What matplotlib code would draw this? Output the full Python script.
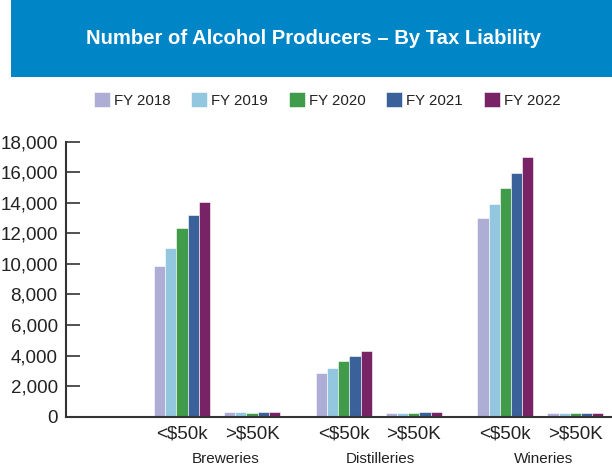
import matplotlib
matplotlib.use("Agg")
import matplotlib.pyplot as plt
from matplotlib.patches import Rectangle
from matplotlib import font_manager

years = ["FY 2018", "FY 2019", "FY 2020", "FY 2021", "FY 2022"]
groups = ["Breweries", "Distilleries", "Wineries"]
subcats = ["<$50k", ">$50K"]
colors = ["#ADADD6", "#93C7E0", "#409B4B", "#3A6199", "#772366"]

# values per year: [Brew <50k, Brew >50K, Dist <50k, Dist >50K, Wine <50k, Wine >50K]
fy2018 = [9850, 300, 2880, 240, 13000, 250]
fy2019 = [11050, 300, 3190, 240, 13920, 250]
fy2020 = [12350, 250, 3650, 260, 14970, 250]
fy2021 = [13200, 300, 3970, 300, 15950, 250]
fy2022 = [14050, 300, 4300, 300, 17000, 250]
series = [fy2018, fy2019, fy2020, fy2021, fy2022]

yticks = [0, 2000, 4000, 6000, 8000, 10000, 12000, 14000, 16000, 18000]
ytick_labels = ["0", "2,000", "4,000", "6,000", "8,000", "10,000", "12,000", "14,000", "16,000", "18,000"]

names = {f.name for f in font_manager.fontManager.ttflist}
narrow = "Liberation Sans Narrow" if "Liberation Sans Narrow" in names else "Liberation Sans"
plt.rcParams["font.family"] = [narrow, "DejaVu Sans"]

W, H = 612, 468
fig = plt.figure(figsize=(W / 100, H / 100), dpi=100)
fig.patch.set_facecolor("white")

# banner
fig.patches.append(Rectangle((11 / W, 1 - 77 / H), 1 - 11 / W, 77 / H,
                             transform=fig.transFigure, facecolor="#0085C7",
                             edgecolor="none", zorder=0))
fig.text(313 / W, 1 - 38 / H, "Number of Alcohol Producers \u2013 By Tax Liability",
         color="white", fontsize=14.6, fontweight="bold", ha="center", va="center")

ax = fig.add_axes([66 / W, 1 - 416.7 / H, 1 - 66 / W, 275 / H])

unit = 70.0  # px per x unit
first = 116 / unit
gstep = 2.31
bw = 0.16
centers = []
for g in range(len(groups)):
    for s in range(len(subcats)):
        centers.append(first + g * gstep + s)

for i, (vals, c, lab) in enumerate(zip(series, colors, years)):
    xs = [x + (i - 2) * bw for x in centers]
    ax.bar(xs, vals, width=bw, color=c, edgecolor="white", linewidth=0.4, label=lab, zorder=2)

ax.set_xlim(0, 546 / unit)
ax.set_ylim(0, 18000)
ax.set_yticks(yticks)
ax.set_yticklabels(ytick_labels)
ax.set_xticks(centers)
ax.set_xticklabels(subcats * len(groups))
ax.tick_params(axis="y", direction="in", length=10, width=1.2, color="#333333",
               labelsize=13.5, labelcolor="#222222", pad=6)
ax.tick_params(axis="x", length=0, labelsize=13.5, labelcolor="#222222", pad=6)
for sp in ["top", "right"]:
    ax.spines[sp].set_visible(False)
for sp in ["left", "bottom"]:
    ax.spines[sp].set_color("#333333")
    ax.spines[sp].set_linewidth(1.5)

group_label_px = [226, 380.5, 543.5]
for name, px in zip(groups, group_label_px):
    ax.text((px - 66) / unit, -0.155, name, transform=ax.get_xaxis_transform(),
            ha="center", va="center", fontsize=11, color="#222222")

leg = fig.legend(loc="center", bbox_to_anchor=(327 / W, 1 - 100 / H), ncol=5, frameon=False,
                 fontsize=10.8, handlelength=1.07, handleheight=1.13, handletextpad=0.25,
                 columnspacing=1.4)
for t in leg.get_texts():
    t.set_color("#222222")

fig.savefig("out.png", dpi=100)
